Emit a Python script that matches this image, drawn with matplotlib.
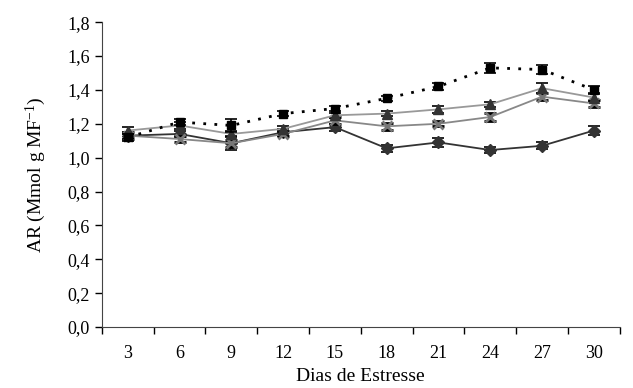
import matplotlib
matplotlib.use("Agg")
import matplotlib.pyplot as plt
import numpy as np

days = ["3", "6", "9", "12", "15", "18", "21", "24", "27", "30"]
sq = [1.12, 1.21, 1.19, 1.26, 1.29, 1.35, 1.42, 1.53, 1.52, 1.40]
sq_err = [0.02, 0.02, 0.04, 0.015, 0.015, 0.015, 0.02, 0.03, 0.025, 0.02]
tri = [1.16, 1.19, 1.14, 1.17, 1.25, 1.26, 1.285, 1.315, 1.41, 1.355]
tri_err = [0.02, 0.02, 0.02, 0.015, 0.015, 0.015, 0.02, 0.015, 0.03, 0.02]
xs = [1.13, 1.11, 1.085, 1.14, 1.22, 1.185, 1.20, 1.24, 1.36, 1.32]
xs_err = [0.02, 0.02, 0.02, 0.015, 0.02, 0.02, 0.015, 0.025, 0.02, 0.02]
dia = [1.13, 1.14, 1.085, 1.15, 1.18, 1.055, 1.09, 1.045, 1.07, 1.16]
dia_err = [0.02, 0.02, 0.04, 0.02, 0.02, 0.02, 0.025, 0.02, 0.02, 0.025]

plt.rcParams['font.family'] = ['Liberation Serif', 'DejaVu Serif']
plt.rcParams['mathtext.fontset'] = 'custom'
plt.rcParams['mathtext.rm'] = 'Liberation Serif'
plt.rcParams['mathtext.it'] = 'Liberation Serif'
fig = plt.figure(figsize=(6.33, 3.88), dpi=100)
ax = fig.add_axes([0.161, 0.157, 0.818, 0.786])
x = np.arange(len(days))

ekw = dict(ecolor='black', elinewidth=1.2, capsize=4, capthick=1.2)
ax.errorbar(x, dia, yerr=dia_err, color='#333333', lw=1.3, marker='D', ms=6,
            mfc='#333333', mec='#333333', zorder=3, **ekw)
ax.errorbar(x, xs, yerr=xs_err, color='#888888', lw=1.3, marker='x', ms=7,
            mew=2, mec='#777777', zorder=4, **ekw)
ax.errorbar(x, tri, yerr=tri_err, color='#999999', lw=1.3, marker='^', ms=7,
            mfc='#333333', mec='#333333', zorder=5, **ekw)
ax.errorbar(x, sq, yerr=sq_err, color='black', lw=2, ls=(0, (1, 3)), marker='s', ms=6,
            mfc='black', mec='black', zorder=6, **ekw)

ax.set_xlim(-0.5, len(days) - 0.5)
ax.set_ylim(0, 1.8)
ax.set_yticks(np.arange(0, 1.81, 0.2))
ax.set_yticklabels([f"{v:.1f}".replace('.', ',') for v in np.arange(0, 1.81, 0.2)], fontsize=13)
ax.set_xticks(x)
ax.set_xticklabels(days, fontsize=13)
ax.set_xticks(np.arange(-0.5, len(days), 1.0), minor=True)
ax.tick_params(axis='x', which='major', length=0, pad=13)
ax.tick_params(axis='x', which='minor', length=5, direction='out', width=1)
ax.tick_params(axis='y', length=5, direction='out', width=1)
for s in ['top', 'right']:
    ax.spines[s].set_visible(False)
for s in ['left', 'bottom']:
    ax.spines[s].set_color('#444444')
ax.set_xlabel("Dias de Estresse", fontsize=14, labelpad=4)
ax.set_ylabel("AR (Mmol g MF$^{\\mathrm{-1}}$)", fontsize=14, labelpad=14)
fig.savefig("out.png", dpi=100)
